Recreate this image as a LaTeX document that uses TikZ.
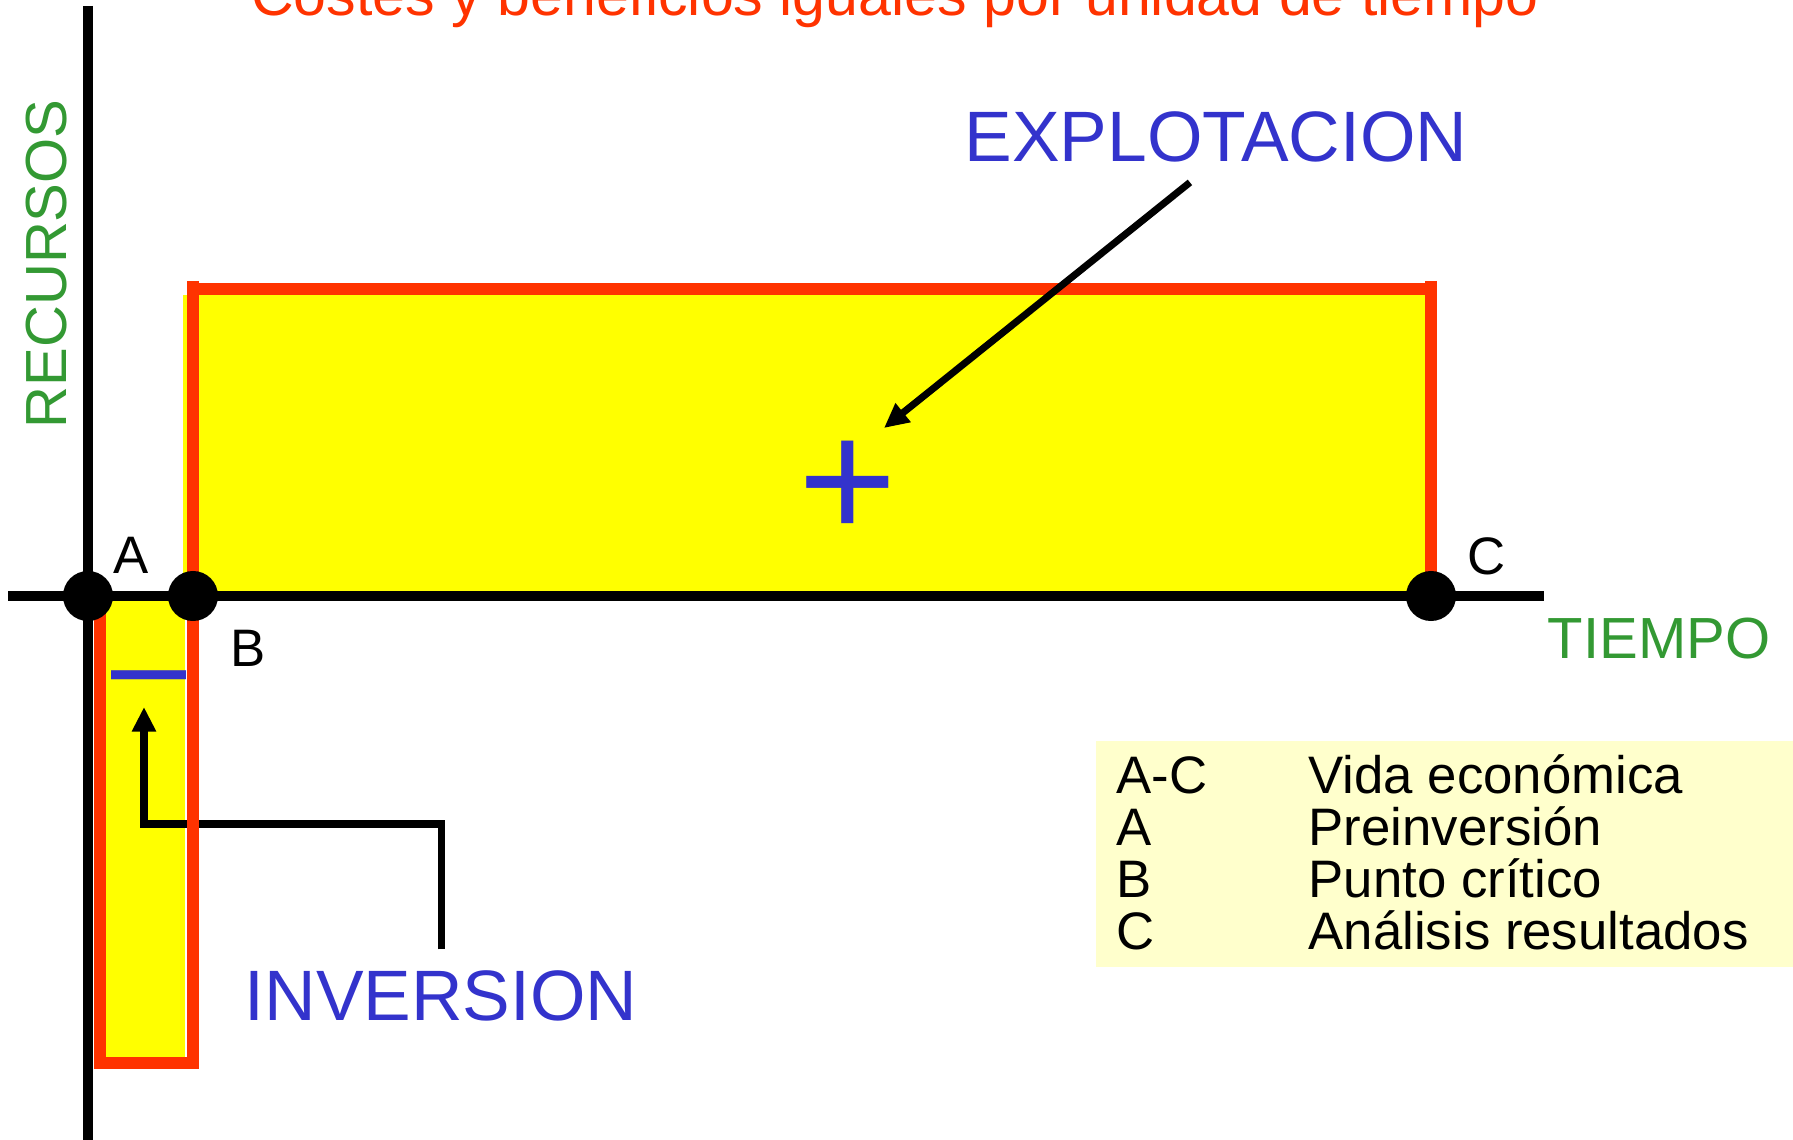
\documentclass[tikz,border=0pt]{standalone}
\usepackage{fontspec}
\setmainfont{Liberation Sans}
\usetikzlibrary{arrows.meta, positioning, calc}
\definecolor{costred}{HTML}{FF3300}
\definecolor{signblue}{HTML}{3333CC}
\definecolor{axisgreen}{HTML}{339933}
\definecolor{areayellow}{HTML}{FFFF00}
\definecolor{legendbg}{HTML}{FFFFCC}

\begin{document}
\begin{tikzpicture}[
        x=0.01cm, y=-0.01cm,
        big/.style={font=\fontsize{20.3}{24}\selectfont, text=signblue, inner sep=0pt},
        axlabel/.style={font=\fontsize{16.5}{20}\selectfont, text=axisgreen, inner sep=0pt},
        ptlabel/.style={font=\fontsize{15}{18}\selectfont, inner sep=0pt, anchor=base west},
        legtxt/.style={font=\fontsize{15}{18}\selectfont, inner sep=0pt, anchor=base west},
        redline/.style={draw=costred, line width=3.4pt},
        axis/.style={line width=3.1pt},
        pointer/.style={-{Triangle[length=7pt, width=6.5pt]}, line width=2pt}
    ]
    \clip (0,0) rectangle (1793,1140);

    \coordinate (A) at (88,596);
    \coordinate (B) at (193,596);
    \coordinate (C) at (1431,596);

    \fill[areayellow] (183,295) rectangle (C);
    \fill[areayellow] (106,596) rectangle (185,1066);

    \node[big, anchor=base west] (inv)  at (244,1020) {INVERSION};
    \node[big, anchor=base west] (expl) at (964,162)  {EXPLOTACION};
    \node[text=signblue, inner sep=0pt, font=\fontsize{48}{56}\selectfont, anchor=base] (plus) at (848,539) {+};
    \node[text=signblue, inner sep=0pt, font=\fontsize{38.4}{46}\selectfont, anchor=base west] (minus) at (111,709) {\textendash};

    % Inversion
    \coordinate (invbend) at (144,824);
    \coordinate (invtip)  at (144,707);
    \draw[pointer] ($(inv.north)+(0,-20)$) |- (invbend) -- (invtip);

    \draw[redline] (193,281) -- (193,1069);
    \draw[redline] (193,289) -- (1431,289);
    \draw[redline] (1431,281) -- (C);
    \draw[redline] (100,610) -- (100,1069);
    \draw[redline] (94,1063) -- (199,1063);

    % Explotacion
    \coordinate (expltip) at (884,428);
    \draw[pointer] ($(expl.south)+(-26,19)$) -- (expltip);

    \coordinate (ytop)   at (88,6);
    \coordinate (ybot)   at (88,1140);
    \coordinate (xleft)  at (8,596);
    \coordinate (xright) at (1544,596);
    \draw[axis] (ytop) -- (ybot);
    \draw[axis] (xleft) -- (xright);

    \fill (A) circle[radius=0.25cm];
    \fill (B) circle[radius=0.25cm];
    \fill (C) circle[radius=0.25cm];

    \node[ptlabel] (la) at (113,574)  {A};
    \node[ptlabel] (lb) at (230,667)  {B};
    \node[ptlabel] (lc) at (1467,575) {C};

    \node[axlabel, anchor=base west] (tiempo) at (1547,659) {TIEMPO};
    \node[axlabel, rotate=90, anchor=base west] (recursos) at (66,429) {RECURSOS};

    \node[font=\fontsize{16.8}{20}\selectfont, text=costred, inner sep=0pt, anchor=base] (title) at (895,16) {Costes y beneficios iguales por unidad de tiempo};

    % Leyenda
    \node[fill=legendbg, inner sep=0pt, minimum width=6.98cm, minimum height=2.26cm, anchor=north west] (legend) at (1095,740) {};
    \node[legtxt] (k1) at (1116,794) {A-C};
    \node[legtxt] (v1) at (1308,794) {Vida económica};
    \node[legtxt] (k2) at (1116,846) {A};
    \node[legtxt] (v2) at (1308,846) {Preinversión};
    \node[legtxt] (k3) at (1116,897) {B};
    \node[legtxt] (v3) at (1308,897) {Punto crítico};
    \node[legtxt] (k4) at (1116,949) {C};
    \node[legtxt] (v4) at (1308,949) {Análisis resultados};
\end{tikzpicture}
\end{document}
